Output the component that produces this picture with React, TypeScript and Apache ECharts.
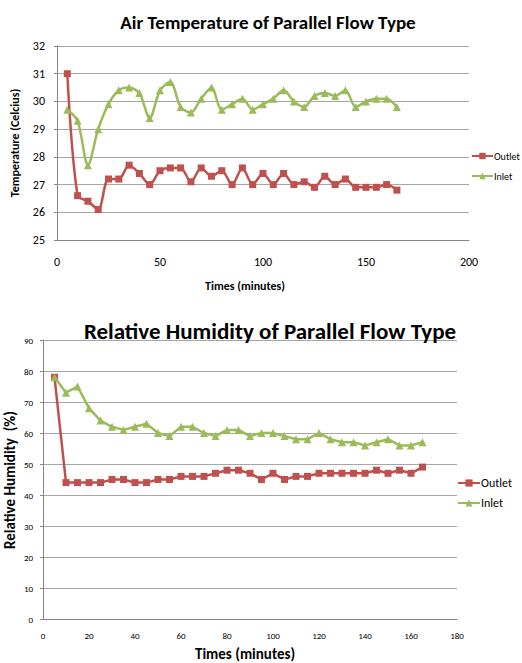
import React, { useEffect, useRef } from "react";
import * as echarts from "echarts";

const times = [5, 10, 15, 20, 25, 30, 35, 40, 45, 50, 55, 60, 65, 70, 75, 80, 85, 90, 95, 100, 105, 110, 115, 120, 125, 130, 135, 140, 145, 150, 155, 160, 165];

const tempOutlet = [31.0, 26.6, 26.4, 26.1, 27.2, 27.2, 27.7, 27.4, 27.0, 27.5, 27.6, 27.6, 27.1, 27.6, 27.3, 27.5, 27.0, 27.6, 27.0, 27.4, 27.0, 27.4, 27.0, 27.1, 26.9, 27.3, 27.0, 27.2, 26.9, 26.9, 26.9, 27.0, 26.8];
const tempInlet = [29.7, 29.3, 27.7, 29.0, 29.9, 30.4, 30.5, 30.3, 29.4, 30.4, 30.7, 29.8, 29.6, 30.1, 30.5, 29.7, 29.9, 30.1, 29.7, 29.9, 30.1, 30.4, 30.0, 29.8, 30.2, 30.3, 30.2, 30.4, 29.8, 30.0, 30.1, 30.1, 29.8];

const rhOutlet = [78, 44, 44, 44, 44, 45, 45, 44, 44, 45, 45, 46, 46, 46, 47, 48, 48, 47, 45, 47, 45, 46, 46, 47, 47, 47, 47, 47, 48, 47, 48, 47, 49];
const rhInlet = [78, 73, 75, 68, 64, 62, 61, 62, 63, 60, 59, 62, 62, 60, 59, 61, 61, 59, 60, 60, 59, 58, 58, 60, 58, 57, 57, 56, 57, 58, 56, 56, 57];

const titles = ["Air Temperature of Parallel Flow Type", "Relative Humidity of Parallel Flow Type"];
const seriesNames = ["Outlet", "Inlet"];
const xNames = ["Times (minutes)", "Times (minutes)"];
const yNames = ["Temperature (Celcius)", "Relative Humidity  (%)"];

const RED = "#C0504D";
const GREEN = "#9BBB59";
const FONT = "Carlito, Lato, 'Open Sans', sans-serif";

const pairs = (ys: number[]) => times.map((t, i) => [t, ys[i]]);

export default function App() {
  const ref = useRef<HTMLDivElement>(null);
  useEffect(() => {
    document.body.style.margin = "0";
    const chart = echarts.init(ref.current!, null, { renderer: "svg" });
    const axisLine = { show: true, lineStyle: { color: "#868686", width: 1 } };
    const split = { show: true, lineStyle: { color: "#a6a6a6", width: 1 } };
    chart.setOption({
      animation: false,
      backgroundColor: "#ffffff",
      textStyle: { fontFamily: FONT },
      title: [
        { text: titles[0], left: 263, top: 8, textAlign: "center", textStyle: { fontFamily: FONT, fontSize: 19, fontWeight: "bold", color: "#000" } },
        { text: titles[1], left: 265, top: 314, textAlign: "center", textStyle: { fontFamily: FONT, fontSize: 23, fontWeight: "bold", color: "#000" } },
      ],
      grid: [
        { left: 57, top: 46, width: 412, height: 194 },
        { left: 43, top: 340, width: 414, height: 279 },
      ],
      xAxis: [
        { type: "value", gridIndex: 0, min: 0, max: 200, interval: 50, axisLine, axisTick: { show: false }, splitLine: { show: false }, axisLabel: { fontFamily: FONT, fontSize: 12, color: "#000", margin: 16 } },
        { type: "value", gridIndex: 1, min: 0, max: 180, interval: 20, axisLine, axisTick: { show: false }, splitLine: { show: false }, axisLabel: { fontFamily: FONT, fontSize: 9, color: "#000", margin: 12 } },
      ],
      yAxis: [
        { type: "value", gridIndex: 0, min: 25, max: 32, interval: 1, axisLine, axisTick: { show: true, length: 3, lineStyle: { color: "#868686" } }, splitLine: split, axisLabel: { fontFamily: FONT, fontSize: 12, color: "#000", margin: 12 } },
        { type: "value", gridIndex: 1, min: 0, max: 90, interval: 10, axisLine, axisTick: { show: true, length: 3, lineStyle: { color: "#868686" } }, splitLine: split, axisLabel: { fontFamily: FONT, fontSize: 9, color: "#000", margin: 10 } },
      ],
      legend: [
        { orient: "vertical", left: 471, top: 151, padding: 0, itemWidth: 21, itemHeight: 8, itemGap: 10, data: seriesNames, textStyle: { fontFamily: FONT, fontSize: 10, color: "#000", padding: [0, 0, 0, -4] } },
        { orient: "vertical", left: 457, top: 477, padding: 0, itemWidth: 22, itemHeight: 9, itemGap: 8, data: seriesNames, textStyle: { fontFamily: FONT, fontSize: 12, color: "#000", padding: [0, 0, 0, -4] } },
      ],
      graphic: [
        { type: "text", left: 205, top: 280, style: { text: xNames[0], fontFamily: FONT, fontSize: 12, fontWeight: "bold", fill: "#000" } },
        { type: "text", left: 195, top: 646, style: { text: xNames[1], fontFamily: FONT, fontSize: 15, fontWeight: "bold", fill: "#000" } },
        { type: "text", x: 15, y: 143, rotation: Math.PI / 2, style: { text: yNames[0], fontFamily: FONT, fontSize: 12, fontWeight: "bold", fill: "#000", align: "center", verticalAlign: "middle" } },
        { type: "text", x: 10, y: 480, rotation: Math.PI / 2, style: { text: yNames[1], fontFamily: FONT, fontSize: 15, fontWeight: "bold", fill: "#000", align: "center", verticalAlign: "middle" } },
      ],
      series: [
        { name: seriesNames[0], type: "line", xAxisIndex: 0, yAxisIndex: 0, data: pairs(tempOutlet), smooth: 0.3, symbol: "rect", symbolSize: 7, itemStyle: { color: RED }, lineStyle: { color: RED, width: 2.5 } },
        { name: seriesNames[1], type: "line", xAxisIndex: 0, yAxisIndex: 0, data: pairs(tempInlet), smooth: 0.3, symbol: "triangle", symbolSize: 8, itemStyle: { color: GREEN }, lineStyle: { color: GREEN, width: 2.5 } },
        { name: seriesNames[0], type: "line", xAxisIndex: 1, yAxisIndex: 1, data: pairs(rhOutlet), smooth: false, symbol: "rect", symbolSize: 7, itemStyle: { color: RED }, lineStyle: { color: RED, width: 2.5 } },
        { name: seriesNames[1], type: "line", xAxisIndex: 1, yAxisIndex: 1, data: pairs(rhInlet), smooth: false, symbol: "triangle", symbolSize: 8, itemStyle: { color: GREEN }, lineStyle: { color: GREEN, width: 2.5 } },
      ],
    });
    return () => chart.dispose();
  }, []);
  return <div ref={ref} style={{ width: 522, height: 663 }} />;
}
